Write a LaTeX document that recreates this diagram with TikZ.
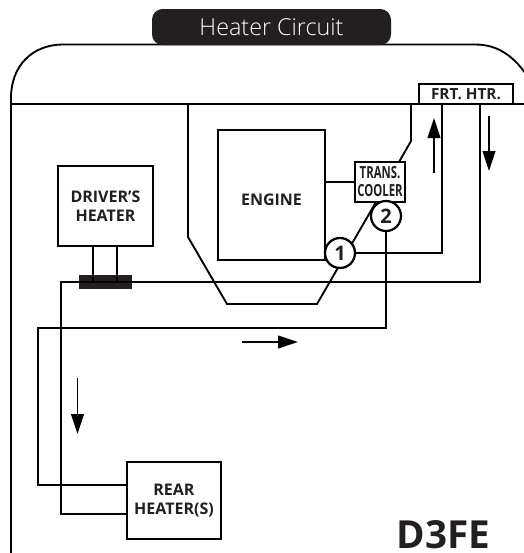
\documentclass[tikz,border=0pt]{standalone}
\usepackage{fontspec}
\setmainfont{Open Sans}
\newfontfamily\lightface{Open Sans Light}
\usetikzlibrary{arrows.meta}
\definecolor{ink}{HTML}{231F20}
\tikzset{
  sz/.style 2 args={minimum width=#1*.75pt,minimum height=#2*.75pt,inner sep=0pt},
  outline/.style={draw=black,line width=1.4pt},
  body/.style={draw=black,line width=1.4pt,line join=miter},
  pipe/.style={draw=black,line width=2.2pt,line join=miter},
  boxed/.style={draw=black,line width=1.6pt,fill=white,align=center,text=ink,font=\bfseries\fontsize{12}{14.5}\selectfont},
  disc/.style={circle,draw=black,line width=1.7pt,fill=white,minimum size=22.5pt,inner sep=0pt,text=ink,font=\bfseries\fontsize{15}{15}\selectfont},
  flow/.style={draw=black,line width=1.4pt,-{Triangle[length=15pt,width=9.5pt]}},
}
\begin{document}
\begin{tikzpicture}[x=.75pt,y=-.75pt]
\useasboundingbox (0,0) rectangle (524,553);
\clip (0,0) rectangle (524,553);
% frame
\coordinate (bl) at (11,553);
\coordinate (ml) at (11,104);
\coordinate (mr) at (524,104);
\draw[outline] (bl) -- (ml) -- (11,98) .. controls (11,66) and (32,45) .. (62,44.5) -- (475,44.5) .. controls (497,44.5) and (514,55) .. (530,80);
\draw[outline] (ml) -- (mr);
% named parts
\node[boxed,sz={107}{130}] (engine) at (271.5,195) {\raisebox{-7.9pt}[0pt][0pt]{ENGINE}};
\node[boxed,sz={50}{40},font=\bfseries\fontsize{12.5}{13.5}\selectfont] (cooler) at (380,182) {\scalebox{.68}[1]{TRANS.}\\\scalebox{.68}[1]{COOLER}};
\node[boxed,sz={95}{80}] (driver) at (105.5,206) {DRIVER'S\\HEATER};
\node[boxed,sz={94}{77}] (rear) at (174,500.5) {REAR\\HEATER(S)};
\node[sz={53}{14},fill=ink] (block) at (105.5,282) {};
% coolant body outline
\coordinate (a1) at (188,104);
\coordinate (a2) at (188,237);
\coordinate (a3) at (227,304);
\coordinate (a4) at (317,304);
\coordinate (b1) at (411,104);
\coordinate (b2) at (411,141);
\coordinate (b3) at (399,162);
\coordinate (b4) at (376,202);
\draw[body] (a1) -- (a2) -- (a3) -- (a4) -- (b4);
\draw[body] (b1) -- (b2) -- (b3);
\draw[body] (engine.east |- cooler.west) -- (cooler.west);
% discs
\node[disc] (one) at (340,253) {1};
\node[disc] (two) at (386,216) {2};
% pipes
\coordinate (f1) at (442,104);
\coordinate (f2) at (480,104);
\coordinate (p1) at (442,253);
\coordinate (p2) at (480,282);
\coordinate (p3) at (61,282);
\coordinate (p4) at (61,514);
\coordinate (q1) at (386,328);
\coordinate (q2) at (38,328);
\coordinate (q3) at (38,485);
\draw[pipe] (one.east) -- (p1) -- (f1);
\draw[pipe] (f2) -- (p2) -- (p3) -- (p4) -- (rear.west |- p4);
\draw[pipe] (two.south) -- (q1) -- (q2) -- (q3) -- (rear.west |- q3);
\coordinate (d1) at (93,246);
\coordinate (d2) at (117,246);
\draw[pipe] (d1) -- (93,282) -- (block.west |- p3);
\draw[pipe] (d2) -- (117,282) -- (block.east |- p3);
\node[boxed,sz={94}{20},font=\bfseries\fontsize{11.5}{13}\selectfont] (frt) at (466,94) {FRT. HTR.};
% flow arrows
\coordinate (u1) at (434,173); \coordinate (u2) at (434,118);
\coordinate (v1) at (489,116); \coordinate (v2) at (489,171);
\coordinate (w1) at (242,342); \coordinate (w2) at (298,342);
\coordinate (x1) at (77.5,378); \coordinate (x2) at (77.5,434);
\draw[flow] (u1) -- (u2);
\draw[flow] (v1) -- (v2);
\draw[flow] (w1) -- (w2);
\draw[flow] (x1) -- (x2);
% title
\node[fill=ink,rounded corners=8pt,sz={239}{36},text=white,font=\lightface\fontsize{17.5}{17.5}\selectfont] (title) at (271.5,27) {Heater Circuit};
\node[anchor=base,inner sep=0pt,text=ink,font=\bfseries\fontsize{29}{29}\selectfont] (code) at (443.5,548) {D3FE};
\end{tikzpicture}
\end{document}
